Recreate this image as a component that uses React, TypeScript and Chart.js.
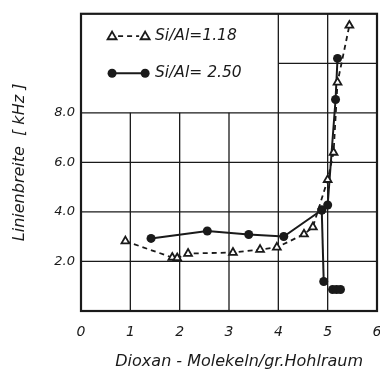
import React, { useEffect, useRef } from "react";
import { Chart, registerables } from "chart.js";

Chart.register(...registerables);

// Si/Al = 1.18 (open triangles, dashed)
const triX = [0.9, 1.85, 1.95, 2.17, 3.08, 3.63, 3.97, 4.52, 4.7, 5.0, 5.12, 5.2, 5.44];
const triY = [2.82, 2.16, 2.14, 2.32, 2.36, 2.48, 2.57, 3.1, 3.39, 5.3, 6.4, 9.23, 11.53];

// Si/Al = 2.50 (filled circles, solid)
const dotX = [1.42, 2.56, 3.4, 4.11, 4.88, 5.0, 5.16, 5.2];
const dotY = [2.93, 3.23, 3.09, 3.01, 4.08, 4.28, 8.54, 10.2];
const dropX = [4.88, 4.92];
const dropY = [4.08, 1.19];
const clusterX = [5.1, 5.18, 5.26];
const clusterY = [0.87, 0.87, 0.87];

const xTicks = [0, 1, 2, 3, 4, 5, 6];
const yTickLabels: Record<number, string> = { 2: "2.0", 4: "4.0", 6: "6.0", 8: "8.0" };
const legendLabels = ["Si/Al=1.18", "Si/Al= 2.50"];
const xTitle = "    Dioxan - Molekeln/gr.Hohlraum";
const yTitle = "Linienbreite  [ kHz ]";

const INK = "#1a1a1a";
const FONT = "'DejaVu Sans', Verdana, sans-serif";

const pts = (xs: number[], ys: number[]) => xs.map((x, i) => ({ x, y: ys[i] }));

const gridPlugin = {
  id: "customGrid",
  beforeDatasetsDraw(chart: any) {
    const { ctx, scales } = chart;
    const xs = scales.x;
    const ys = scales.y;
    ctx.save();
    ctx.strokeStyle = INK;
    ctx.lineWidth = 1.3;
    const seg = (x1: number, y1: number, x2: number, y2: number) => {
      ctx.beginPath();
      ctx.moveTo(xs.getPixelForValue(x1), ys.getPixelForValue(y1));
      ctx.lineTo(xs.getPixelForValue(x2), ys.getPixelForValue(y2));
      ctx.stroke();
    };
    [2, 4, 6, 8].forEach((v) => seg(0, v, 6, v));
    seg(4, 10, 6, 10);
    [1, 2, 3].forEach((v) => seg(v, 0, v, 8));
    [4, 5].forEach((v) => seg(v, 0, v, 12));
    ctx.lineWidth = 2.2;
    const a = chart.chartArea;
    ctx.strokeRect(a.left, a.top, a.right - a.left, a.bottom - a.top);
    ctx.restore();
  },
};

const legendPlugin = {
  id: "customLegend",
  afterDatasetsDraw(chart: any) {
    const { ctx, scales } = chart;
    const xs = scales.x;
    const ys = scales.y;
    ctx.save();
    const r1y = ys.getPixelForValue(11.1);
    const r2y = ys.getPixelForValue(9.6);
    const lx1 = xs.getPixelForValue(0.63);
    const lx2 = xs.getPixelForValue(1.3);
    const tx = xs.getPixelForValue(1.5);
    ctx.strokeStyle = INK;
    ctx.fillStyle = INK;
    ctx.lineWidth = 1.8;
    ctx.setLineDash([5, 4]);
    ctx.beginPath();
    ctx.moveTo(lx1 + 6, r1y);
    ctx.lineTo(lx2 - 6, r1y);
    ctx.stroke();
    ctx.setLineDash([]);
    const tri = (cx: number, cy: number) => {
      const r = 4.5;
      ctx.beginPath();
      ctx.moveTo(cx, cy - r);
      ctx.lineTo(cx + r, cy + r * 0.7);
      ctx.lineTo(cx - r, cy + r * 0.7);
      ctx.closePath();
      ctx.lineWidth = 1.8;
      ctx.stroke();
    };
    tri(lx1, r1y);
    tri(lx2, r1y);
    ctx.lineWidth = 2;
    ctx.beginPath();
    ctx.moveTo(lx1, r2y);
    ctx.lineTo(lx2, r2y);
    ctx.stroke();
    [lx1, lx2].forEach((cx) => {
      ctx.beginPath();
      ctx.arc(cx, r2y, 4.5, 0, Math.PI * 2);
      ctx.fill();
    });
    ctx.font = `oblique 15.5px ${FONT}`;
    ctx.textBaseline = "middle";
    ctx.textAlign = "left";
    ctx.fillText(legendLabels[0], tx, r1y);
    ctx.fillText(legendLabels[1], tx, r2y);
    ctx.restore();
  },
};

const bgPlugin = {
  id: "bg",
  beforeDraw(chart: any) {
    const { ctx, width, height } = chart;
    ctx.save();
    ctx.fillStyle = "#ffffff";
    ctx.fillRect(0, 0, width, height);
    ctx.restore();
  },
};

export default function App() {
  const ref = useRef<HTMLCanvasElement>(null);
  useEffect(() => {
    document.body.style.margin = "0";
    const canvas = ref.current!;
    const chart = new Chart(canvas, {
      type: "scatter",
      data: {
        datasets: [
          {
            label: legendLabels[0],
            data: pts(triX, triY),
            showLine: true,
            borderColor: INK,
            borderWidth: 1.8,
            borderDash: [5, 4],
            pointStyle: "triangle",
            pointRadius: 4.5,
            pointBorderWidth: 1.8,
            pointBorderColor: INK,
            pointBackgroundColor: "#ffffff",
          },
          {
            label: legendLabels[1],
            data: pts(dotX, dotY),
            showLine: true,
            borderColor: INK,
            borderWidth: 2,
            pointStyle: "circle",
            pointRadius: 4.5,
            pointBorderWidth: 0,
            pointBackgroundColor: INK,
          },
          {
            label: "drop",
            data: pts(dropX, dropY),
            showLine: true,
            borderColor: INK,
            borderWidth: 2,
            pointRadius: 4.5,
            pointBorderWidth: 0,
            pointBackgroundColor: INK,
          },
          {
            label: "cluster",
            data: pts(clusterX, clusterY),
            showLine: false,
            pointRadius: 4.5,
            pointBorderWidth: 0,
            pointBackgroundColor: INK,
          },
        ],
      },
      options: {
        responsive: false,
        animation: false,
        layout: { autoPadding: false, padding: { top: 13, right: 3, left: 0, bottom: 0 } },
        plugins: { legend: { display: false }, tooltip: { enabled: false } },
        scales: {
          x: {
            type: "linear",
            min: 0,
            max: 6,
            afterFit(scale: any) {
              scale.height = 58;
              scale.paddingRight = 0;
              scale.paddingLeft = 0;
            },
            afterBuildTicks(scale: any) {
              scale.ticks = xTicks.map((v) => ({ value: v }));
            },
            grid: { display: false, drawTicks: true, tickLength: 13, tickColor: "rgba(0,0,0,0)" },
            border: { display: false },
            ticks: {
              color: INK,
              padding: 0,
              maxRotation: 0,
              font: { family: FONT, size: 14, style: "oblique" },
              callback: (v: any) => String(v),
            },
            title: {
              display: true,
              text: xTitle,
              color: INK,
              font: { family: FONT, size: 16, style: "oblique", lineHeight: 0.85 },
              padding: { top: 0, bottom: 0 },
            },
          },
          y: {
            type: "linear",
            min: 0,
            max: 12,
            afterFit(scale: any) {
              scale.width = 81;
            },
            grid: { display: false, drawTicks: false },
            border: { display: false },
            ticks: {
              stepSize: 2,
              color: INK,
              padding: 6,
              font: { family: FONT, size: 13, style: "oblique" },
              callback: (v: any) => yTickLabels[v as number] ?? "",
            },
            title: {
              display: true,
              text: yTitle,
              color: INK,
              font: { family: FONT, size: 16, style: "oblique" },
              padding: { top: 10, bottom: 0 },
            },
          },
        },
      },
      plugins: [bgPlugin, gridPlugin, legendPlugin],
    } as any);
    return () => chart.destroy();
  }, []);
  return (
    <div style={{ width: 380, height: 369 }}>
      <canvas ref={ref} width={380} height={369} />
    </div>
  );
}
